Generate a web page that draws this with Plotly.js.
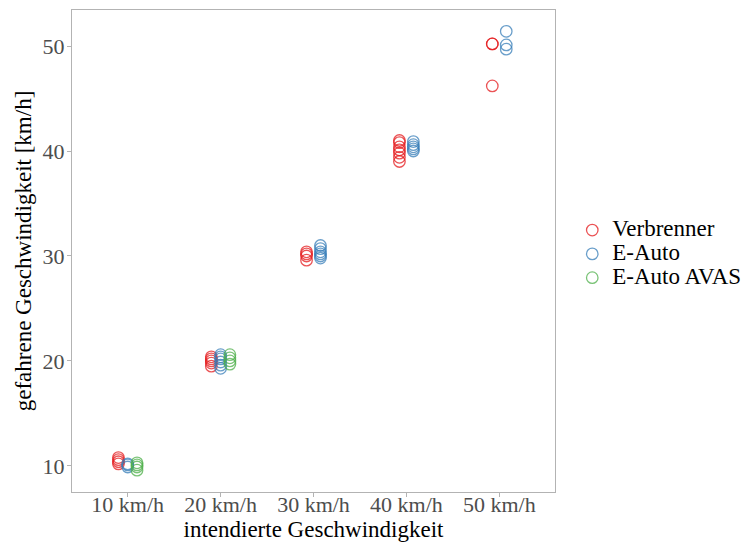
<!DOCTYPE html>
<html>
<head>
<meta charset="utf-8">
<script src="https://cdn.plot.ly/plotly-3.0.1.min.js"></script>
<style>html,body{margin:0;padding:0;background:#fff;}#chart{width:751px;height:542px;}</style>
</head>
<body>
<div id="chart"></div>
<script>
var categories = ['10 km/h', '20 km/h', '30 km/h', '40 km/h', '50 km/h'];
var seriesNames = ['Verbrenner', 'E-Auto', 'E-Auto AVAS'];
var verbrenner = [
  [10.2, 10.4, 10.6, 10.8],
  [19.5, 19.8, 20.0, 20.2, 20.4],
  [29.6, 30.0, 30.2, 30.4],
  [39.0, 39.4, 39.8, 40.1, 40.4, 40.8, 41.0],
  [46.2, 50.2, 50.2]
];
var eAuto = [
  [9.9, 10.1, 10.2],
  [19.3, 19.6, 19.9, 20.2, 20.4, 20.6],
  [29.8, 30.0, 30.2, 30.4, 30.7, 31.0],
  [40.0, 40.2, 40.4, 40.6, 40.9],
  [49.7, 50.1, 51.4]
];
var eAutoAvas = [
  [9.6, 9.9, 10.1, 10.3],
  [19.7, 20.0, 20.3, 20.6],
  [],
  [],
  []
];
var colors = ['#E41A1C', '#377EB8', '#4DAF4A'];
var allSeries = [verbrenner, eAuto, eAutoAvas];
var dodgeWidth = 0.3;

var traces = allSeries.map(function (ser, s) {
  var xs = [], ys = [];
  categories.forEach(function (c, ci) {
    var present = [];
    allSeries.forEach(function (other, k) { if (other[ci].length) present.push(k); });
    var n = present.length;
    var idx = present.indexOf(s);
    if (idx < 0) return;
    var off = n > 1 ? -dodgeWidth / 2 + dodgeWidth * (idx + 0.5) / n : 0;
    ser[ci].forEach(function (v) { xs.push(ci + off); ys.push(v); });
  });
  return {
    type: 'scatter', mode: 'markers',
    name: '<span style="font-size:23px">' + seriesNames[s] + '</span>',
    x: xs, y: ys,
    marker: {symbol: 'circle-open', size: 11.5, color: colors[s], opacity: 0.75, line: {width: 1.3}},
    cliponaxis: false
  };
});

var layout = {
  width: 751, height: 542,
  margin: {l: 72, r: 196, t: 10, b: 50, autoexpand: false},
  paper_bgcolor: '#fff', plot_bgcolor: '#fff',
  font: {family: '"Liberation Serif", "Times New Roman", serif', color: '#000'},
  showlegend: true,
  legend: {
    xref: 'container', yref: 'container',
    x: 0.762, xanchor: 'left', y: 0.531, yanchor: 'middle',
    font: {size: 16, color: '#000'}, itemwidth: 30, tracegroupgap: 0,
    bgcolor: 'rgba(0,0,0,0)'
  },
  xaxis: {
    range: [-0.6, 4.6],
    tickmode: 'array', tickvals: categories.map(function (c, i) { return i; }), ticktext: categories,
    showgrid: false, zeroline: false,
    showline: true, linecolor: '#b3b3b3', linewidth: 1, mirror: true,
    ticks: 'outside', ticklen: 4, tickcolor: '#b3b3b3',
    tickfont: {size: 22, color: '#4d4d4d'},
    ticklabelstandoff: -11,
    title: {text: 'intendierte Geschwindigkeit', font: {size: 23, color: '#000'}, standoff: 2}
  },
  yaxis: {
    range: [7.52, 53.43],
    tickvals: [10, 20, 30, 40, 50],
    showgrid: false, zeroline: false,
    showline: true, linecolor: '#b3b3b3', linewidth: 1, mirror: true,
    ticks: 'outside', ticklen: 4, tickcolor: '#b3b3b3',
    tickfont: {size: 22, color: '#4d4d4d'},
    ticklabelstandoff: -2,
    title: {text: 'gefahrene Geschwindigkeit [km/h]', font: {size: 23, color: '#000'}, standoff: 4}
  }
};

Plotly.newPlot('chart', traces, layout, {displayModeBar: false, staticPlot: true});
</script>
</body>
</html>
